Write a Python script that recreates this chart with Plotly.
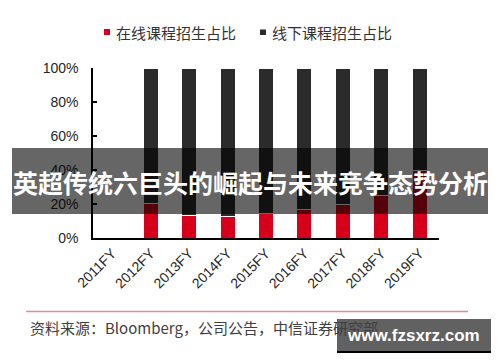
import plotly.graph_objects as go

categories = ["2011FY", "2012FY", "2013FY", "2014FY", "2015FY", "2016FY", "2017FY", "2018FY", "2019FY"]
online_share = [None, 20.5, 13, 12.5, 14.5, 16.5, 20, 25, 40]
offline_share = [None if v is None else 100 - v for v in online_share]
y_ticks = [0, 20, 40, 60, 80, 100]
y_tick_labels = ["0%", "20%", "40%", "60%", "80%", "100%"]
legend_names = ["在线课程招生占比", "线下课程招生占比"]
source_text = "资料来源：Bloomberg，公司公告，中信证券研究部"
title_text = "英超传统六巨头的崛起与未来竞争态势分析"
watermark_text = "www.fzsxrz.com"

RED = "#D7001A"
DARK = "#2B2B2B"

W, H = 500, 362
L, R, T, B = 93, 61, 68, 124
PW, PH = W - L - R, H - T - B


def px(x):
    return (x - L) / PW


def py(y):
    return (H - B - y) / PH


fig = go.Figure()
fig.add_trace(go.Bar(x=categories, y=online_share, name=legend_names[0],
                     marker=dict(color=RED, line=dict(color="white", width=1)),
                     width=0.39, showlegend=False))
fig.add_trace(go.Bar(x=categories, y=offline_share, name=legend_names[1],
                     marker=dict(color=DARK, line=dict(color="white", width=1)),
                     width=0.39, showlegend=False))

shapes = [
    dict(type="rect", xref="paper", yref="paper", x0=px(104), x1=px(110), y0=py(35), y1=py(29),
         fillcolor=RED, line=dict(width=0)),
    dict(type="rect", xref="paper", yref="paper", x0=px(260), x1=px(266), y0=py(35), y1=py(29.5),
         fillcolor=DARK, line=dict(width=0)),
    dict(type="line", xref="paper", yref="paper", x0=px(26), x1=px(468), y0=py(311.5), y1=py(311.5),
         line=dict(color="#E8898E", width=1.5)),
    dict(type="rect", xref="paper", yref="paper", x0=px(12), x1=px(488), y0=py(214), y1=py(148),
         fillcolor="rgba(0,0,0,0.6)", line=dict(width=0), layer="above"),
    dict(type="rect", xref="paper", yref="paper", x0=px(337), x1=px(491), y0=py(351), y1=py(319),
         fillcolor="rgba(0,0,0,0.62)", line=dict(width=0), layer="above"),
    dict(type="line", xref="paper", yref="paper", x0=px(337), x1=px(491), y0=py(352), y1=py(352),
         line=dict(color="black", width=2), layer="above"),
]

annotations = [
    dict(xref="paper", yref="paper", x=px(114), y=py(32.5), xanchor="left", yanchor="middle",
         text=legend_names[0], showarrow=False,
         font=dict(family="Noto Sans CJK SC", size=15, color="#333333")),
    dict(xref="paper", yref="paper", x=px(270), y=py(32.5), xanchor="left", yanchor="middle",
         text=legend_names[1], showarrow=False,
         font=dict(family="Noto Sans CJK SC", size=15, color="#333333")),
    dict(xref="paper", yref="paper", x=px(28), y=py(327.5), xanchor="left", yanchor="middle",
         text=source_text, showarrow=False,
         font=dict(family="Noto Sans CJK SC", size=15, color="#404040")),
    dict(xref="paper", yref="paper", x=px(250), y=py(182), xanchor="center", yanchor="middle",
         text="<b>" + title_text + "</b>", showarrow=False,
         font=dict(family="Noto Sans CJK SC", size=25, color="white")),
    dict(xref="paper", yref="paper", x=px(413), y=py(335.5), xanchor="center", yanchor="middle",
         text="<b>" + watermark_text + "</b>", showarrow=False,
         font=dict(family="Liberation Sans", size=17, color="white")),
]

fig.update_layout(
    width=W, height=H,
    margin=dict(l=L, r=R, t=T, b=B, pad=0),
    barmode="stack",
    paper_bgcolor="white", plot_bgcolor="white",
    shapes=shapes, annotations=annotations,
    showlegend=False,
    xaxis=dict(type="category", range=[-0.5, 8.5], showline=True, linecolor="black", linewidth=1.5,
               ticks="", tickangle=-45, showgrid=False, zeroline=False,
               tickfont=dict(family="Liberation Sans", size=14, color="#262626")),
    yaxis=dict(range=[0, 100], tickmode="array", tickvals=y_ticks, ticktext=y_tick_labels,
               showline=True, linecolor="black",
               linewidth=1.5, ticks="inside", ticklen=4, tickcolor="black", tickwidth=1.5,
               showgrid=False, zeroline=False, ticklabelstandoff=10,
               tickfont=dict(family="Liberation Sans", size=14, color="#262626")),
)

fig.write_html("out.html", config={"displayModeBar": False},
               post_script="document.body.style.margin='0px';document.body.style.overflow='hidden';")
